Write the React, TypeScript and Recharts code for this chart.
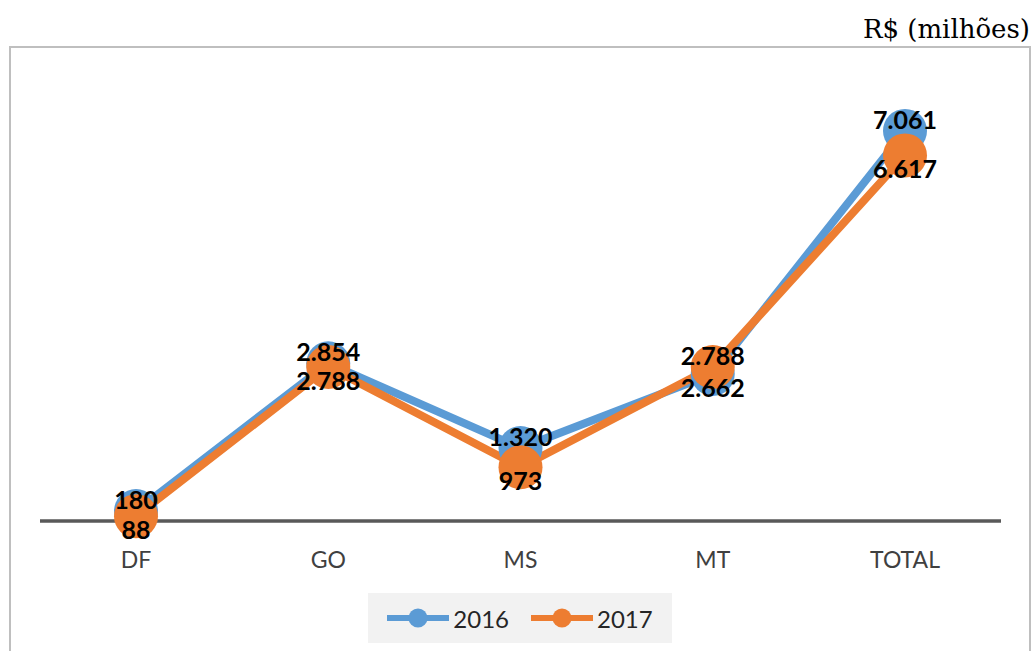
import { LineChart, Line, XAxis, YAxis, LabelList } from "recharts";

const categories = ["DF", "GO", "MS", "MT", "TOTAL"];
const values2016 = [180, 2854, 1320, 2662, 7061];
const values2017 = [88, 2788, 973, 2788, 6617];

const BLUE = "#5B9BD5";
const ORANGE = "#ED7D31";

const data = categories.map((c, i) => ({
  cat: c,
  y2016: values2016[i],
  y2017: values2017[i],
}));

// 7061 -> "7.061"
const fmt = (v: number) => String(v).replace(/\B(?=(\d{3})+(?!\d))/g, ".");

// higher value of the pair gets its label above the dot, the lower one below
const makeLabel = (own: number[], other: number[]) => (props: any) => {
  const { x, y, index, value } = props;
  const above = own[index] >= other[index];
  return (
    <text
      x={x}
      y={above ? y - 12 : y + 13}
      textAnchor="middle"
      dominantBaseline="central"
      fontFamily="Lato, sans-serif"
      fontWeight="bold"
      fontSize={25}
      fill="#000"
    >
      {fmt(value)}
    </text>
  );
};

const LegendItem = ({ color, label }: { color: string; label: string }) => (
  <div style={{ display: "flex", alignItems: "center", marginRight: 22 }}>
    <svg width={62} height={24}>
      <line x1={1} y1={12} x2={61} y2={12} stroke={color} strokeWidth={6} strokeLinecap="round" />
      <circle cx={31} cy={12} r={9.5} fill={color} />
    </svg>
    <span style={{ marginLeft: 4, fontFamily: "Lato, sans-serif", fontSize: 24, color: "#262626" }}>
      {label}
    </span>
  </div>
);

export default function App() {
  return (
    <div style={{ position: "relative", width: 1032, height: 651, overflow: "hidden", background: "#fff" }}>
      <style>{`body{margin:0}`}</style>
      <div
        style={{
          position: "absolute",
          right: 2,
          top: 14,
          fontFamily: "'DejaVu Serif', serif",
          fontSize: 26,
          color: "#000",
          lineHeight: "30px",
        }}
      >
        R$ (milhões)
      </div>
      <div
        style={{
          position: "absolute",
          left: 9,
          top: 46,
          width: 1018,
          height: 640,
          border: "2px solid #bfbfbf",
        }}
      />
      <div style={{ position: "absolute", left: 0, top: 0 }}>
        <LineChart
          width={1032}
          height={651}
          data={data}
          margin={{ top: 79, right: 31, bottom: 70, left: 40 }}
        >
          <XAxis
            dataKey="cat"
            height={60}
            padding={{ left: 96, right: 96 }}
            axisLine={{ stroke: "#595959", strokeWidth: 3.5 }}
            tickLine={false}
            tickMargin={25}
            tick={{ fontFamily: "Lato, sans-serif", fontSize: 23, fill: "#404040" }}
          />
          <YAxis hide domain={[0, 8000]} />
          <Line
            dataKey="y2016"
            type="linear"
            stroke={BLUE}
            strokeWidth={8}
            dot={{ r: 22, fill: BLUE, stroke: "none" }}
            activeDot={false}
            isAnimationActive={false}
          />
          <Line
            dataKey="y2017"
            type="linear"
            stroke={ORANGE}
            strokeWidth={8}
            dot={{ r: 22, fill: ORANGE, stroke: "none" }}
            activeDot={false}
            isAnimationActive={false}
          />
          {/* label-only series so the numbers sit on top of both lines */}
          <Line
            dataKey="y2016"
            stroke="none"
            dot={false}
            activeDot={false}
            legendType="none"
            isAnimationActive={false}
          >
            <LabelList dataKey="y2016" content={makeLabel(values2016, values2017)} />
          </Line>
          <Line
            dataKey="y2017"
            stroke="none"
            dot={false}
            activeDot={false}
            legendType="none"
            isAnimationActive={false}
          >
            <LabelList dataKey="y2017" content={makeLabel(values2017, values2016)} />
          </Line>
        </LineChart>
      </div>
      <div
        style={{
          position: "absolute",
          left: 368,
          top: 593,
          width: 304,
          height: 50,
          background: "#f2f2f2",
          display: "flex",
          alignItems: "center",
          justifyContent: "center",
          paddingLeft: 22,
          boxSizing: "border-box",
        }}
      >
        <LegendItem color={BLUE} label="2016" />
        <LegendItem color={ORANGE} label="2017" />
      </div>
    </div>
  );
}
